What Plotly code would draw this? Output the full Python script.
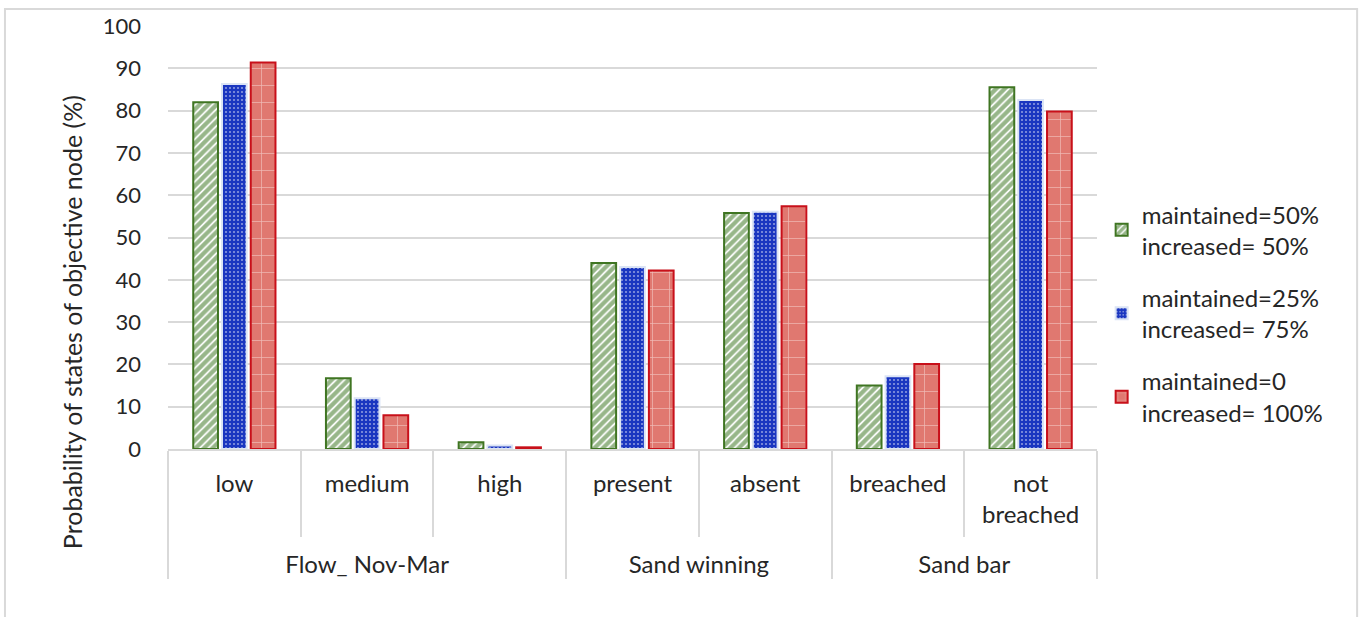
import plotly.graph_objects as go

groups = ["Flow_ Nov-Mar"] * 3 + ["Sand winning"] * 2 + ["Sand bar"] * 2
states = ["low", "medium", "high", "present", "absent", "breached", "not<br>breached"]

series_names = [
    "maintained=50%<br>increased= 50%",
    "maintained=25%<br>increased= 75%",
    "maintained=0<br>increased= 100%",
]
vals_50 = [82, 16.7, 1.6, 44, 55.8, 15, 85.5]
vals_25 = [86.3, 12, 0.8, 43, 56.1, 17.2, 82.5]
vals_0 = [91.4, 8, 0.4, 42.2, 57.4, 20.1, 79.8]

y_title = "Probability of states of objective node (%)"

styles = [
    dict(color="#ffffff", line=dict(color="#3f7522", width=2),
         pattern=dict(shape="/", fgcolor="#2f6e14", bgcolor="#ffffff", size=6, solidity=0.7)),
    dict(color="#1a36c0", line=dict(color="#dbe4f5", width=2),
         pattern=dict(shape=".", fgcolor="#ffffff", bgcolor="#1a36c0", size=4, solidity=0.22)),
    dict(color="#e07870", line=dict(color="#c8101a", width=2),
         pattern=dict(shape="+", fgcolor="#ffffff", bgcolor="#e07870", size=17, solidity=0.08)),
]

# pad the inner labels so the group labels sit lower, as in the reference
inner_labels = [s if "<br>" in s else s + "<br> " for s in states]
inner_labels = [s + "<br> " for s in inner_labels]

fig = go.Figure()
for name, vals, st in zip(series_names, [vals_50, vals_25, vals_0], styles):
    fig.add_trace(go.Bar(
        x=[groups, inner_labels], y=vals, name=name, marker=st, legendgroup=name,
    ))

font_family = "Lato, 'Open Sans', sans-serif"
fig.update_layout(
    width=1363, height=617,
    margin=dict(l=168, r=266, t=24, b=168),
    paper_bgcolor="white", plot_bgcolor="white",
    barmode="group", bargap=0.35, bargroupgap=0.14,
    font=dict(family=font_family, size=25, color="#262626"),
    legend=dict(x=1.005, y=0.32, xanchor="left", yanchor="middle",
                font=dict(size=24, color="#262626"), tracegroupgap=18,
                itemwidth=30),
    showlegend=True,
    shapes=[dict(type="rect", xref="paper", yref="paper",
                 x0=-0.1755, x1=1.28, y0=-0.41, y1=1.04,
                 line=dict(color="#d9d9d9", width=2), layer="below")],
    annotations=[dict(text=y_title, xref="paper", yref="paper", x=-0.1033, y=0.30,
                      xanchor="center", yanchor="middle", textangle=-90, showarrow=False,
                      font=dict(size=25, color="#262626"))],
)
fig.update_yaxes(range=[0, 100], dtick=10, showgrid=True, gridcolor="#d9d9d9", gridwidth=1.5,
                 zeroline=False, showline=False, ticks="", ticklabelstandoff=26,
                 tickfont=dict(size=22))
fig.update_xaxes(type="multicategory", showline=True, linecolor="#d9d9d9", linewidth=2,
                 ticks="outside", tickson="boundaries", ticklen=86, tickcolor="#d9d9d9",
                 tickwidth=2, showdividers=True, dividercolor="#d9d9d9", dividerwidth=2,
                 tickfont=dict(size=24), ticklabelstandoff=12)

fig.write_html("out.html", config={"displayModeBar": False},
               post_script="document.body.style.margin='0px';")
